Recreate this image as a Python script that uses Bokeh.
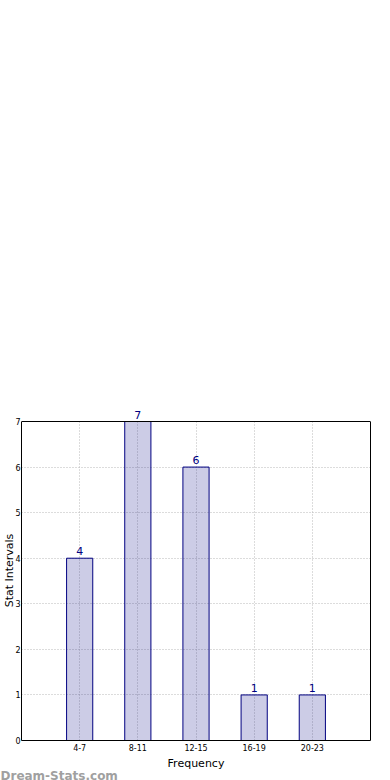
from bokeh.plotting import figure
from bokeh.models import (ColumnDataSource, Range1d, FixedTicker, LabelSet, Span,
                          LinearAxis, Title, Grid)
from bokeh.core.properties import value
from bokeh.embed import file_html
from bokeh.resources import INLINE

categories = ["4-7", "8-11", "12-15", "16-19", "20-23"]
counts = [4, 7, 6, 1, 1]
y_ticks = [0, 1, 2, 3, 4, 5, 6, 7]

xs = list(range(1, len(categories) + 1))
src = ColumnDataSource(dict(x=xs, top=counts, lbl=[str(c) for c in counts]))

FONT = "DejaVu Sans"
BOX_TOP_PX, FRAME_TOP_PX, FRAME_BOTTOM_PX = 421, 400, 740
y_top = y_ticks[-1]
y_end = y_top * (FRAME_BOTTOM_PX - FRAME_TOP_PX) / (FRAME_BOTTOM_PX - BOX_TOP_PX)

p = figure(width=390, height=780, output_backend="svg", toolbar_location=None,
           x_range=Range1d(0, len(categories) + 1), y_range=Range1d(0, y_end),
           min_border_left=19, min_border_right=20, min_border_top=FRAME_TOP_PX,
           min_border_bottom=780 - FRAME_BOTTOM_PX)
p.background_fill_color = "white"
p.border_fill_color = "white"
p.outline_line_color = None

p.vbar(x="x", top="top", width=0.45, bottom=0, source=src,
       fill_color="navy", fill_alpha=0.2, line_color="navy", line_width=1)
p.add_layout(LabelSet(x="x", y="top", text="lbl", source=src, text_align="center",
                      text_baseline="bottom", y_offset=3, text_color="navy",
                      text_font_size="11px", text_font=value(FONT)))

right_axis = LinearAxis(ticker=FixedTicker(ticks=[]), bounds=(y_ticks[0], y_top))
p.add_layout(right_axis, "right")

p.xaxis.ticker = FixedTicker(ticks=xs)
p.xaxis.major_label_overrides = {x: c for x, c in zip(xs, categories)}
p.yaxis[0].ticker = FixedTicker(ticks=y_ticks)
p.yaxis[0].bounds = (y_ticks[0], y_top)
for ax in list(p.xaxis) + list(p.yaxis):
    ax.axis_line_color = "black"
    ax.axis_line_width = 1
    ax.major_tick_in = 0
    ax.major_tick_out = 0
    ax.minor_tick_line_color = None
    ax.major_label_text_font = FONT
    ax.major_label_text_font_size = "8px"
    ax.major_label_text_color = "black"
    ax.major_label_text_line_height = 1.0
    ax.axis_label_text_font = FONT
    ax.axis_label_text_font_size = "11px"
    ax.axis_label_text_font_style = "normal"
    ax.axis_label_text_color = "black"
    ax.axis_label_text_line_height = 1.0
p.xaxis.axis_label = "Frequency"
p.xaxis.major_label_standoff = 3
p.xaxis.axis_label_standoff = 3
p.yaxis[0].axis_label = "Stat Intervals"
p.yaxis[0].major_label_standoff = 1
p.yaxis[0].axis_label_standoff = -4

p.add_layout(Span(location=y_top, dimension="width", line_color="black", line_width=1))

p.xgrid.ticker = FixedTicker(ticks=xs)
p.xgrid.cross_bounds = (y_ticks[0], y_top)
p.ygrid.ticker = FixedTicker(ticks=y_ticks[1:-1])
for g in (p.xgrid[0], p.ygrid[0]):
    g.grid_line_color = "#b8b8b8"
    g.grid_line_dash = "1 2"
    g.grid_line_width = 1

p.add_layout(Title(text="Dream-Stats.com", align="left", offset=-21, standoff=-12,
                   text_color="#a0a0a0", text_font_size="12px", text_font_style="bold",
                   text_font=FONT, text_line_height=1.0), "below")

open("out.html", "w").write(file_html(p, INLINE))
